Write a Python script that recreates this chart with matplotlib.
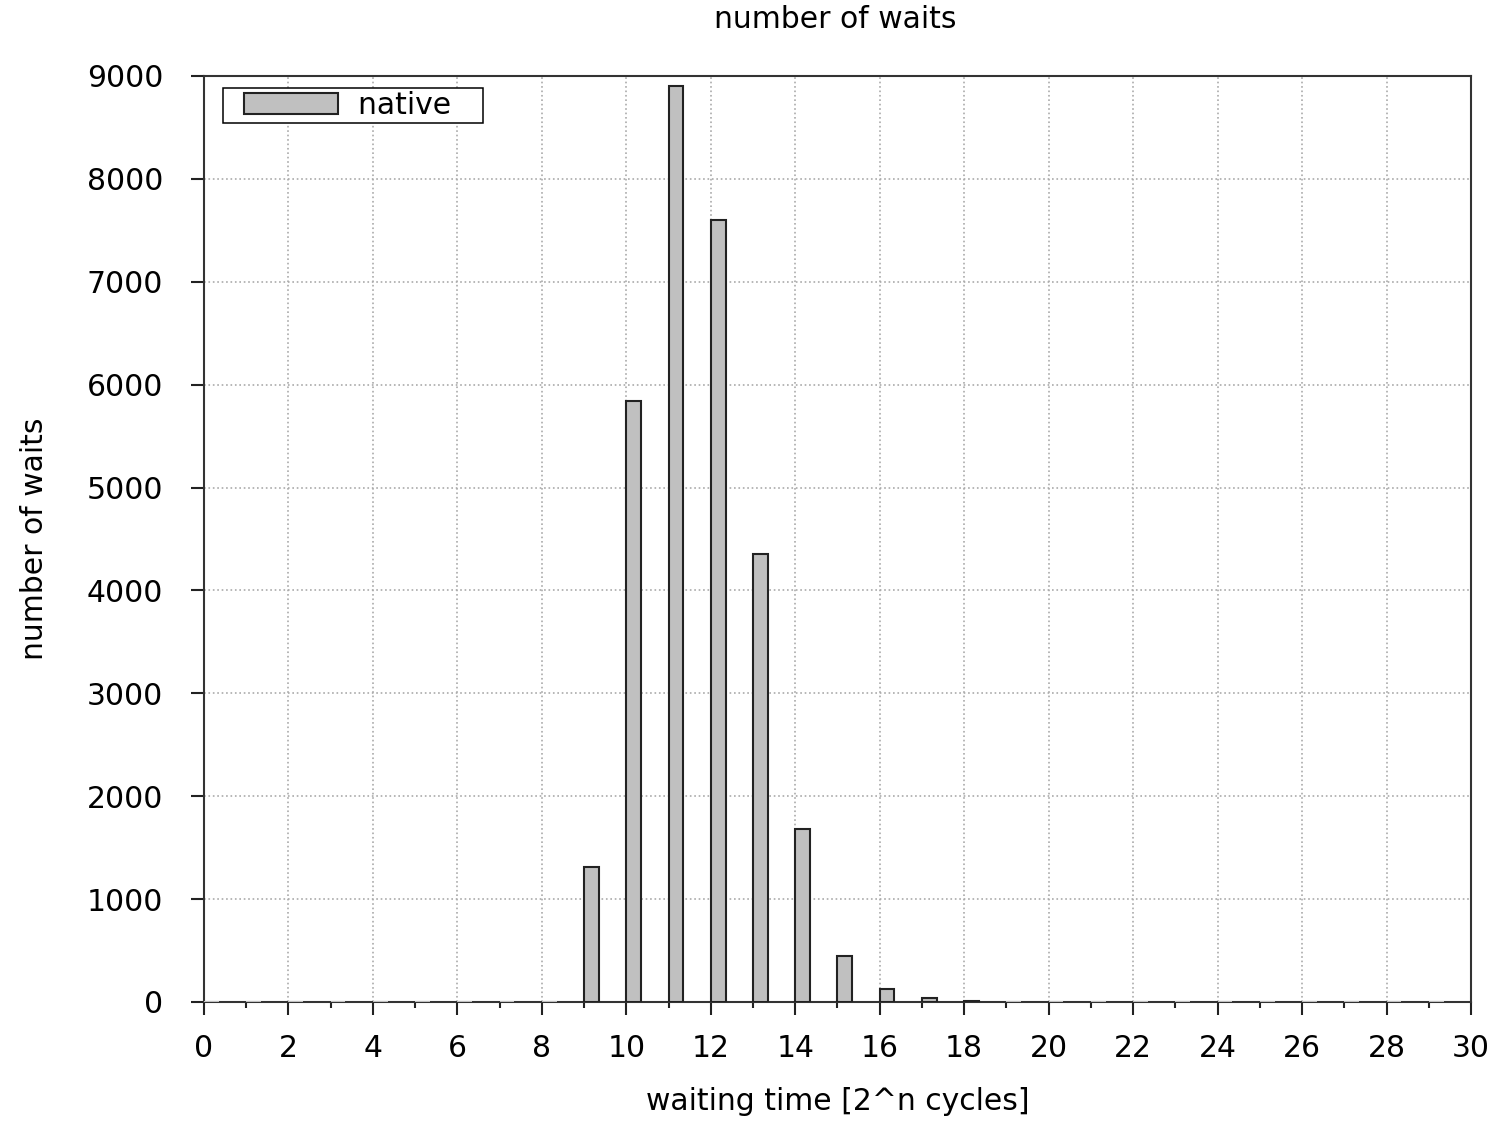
import numpy as np
import matplotlib.pyplot as plt
from matplotlib.container import BarContainer
from matplotlib.legend_handler import HandlerPatch, update_from_first_child

# waiting time bins 2^n cycles
n = list(range(30))
waits = [0, 0, 0, 0, 0, 0, 0, 0, 0, 1310, 5840, 8900, 7600, 4350, 1680,
         450, 125, 35, 10, 0, 0, 0, 0, 0, 0, 0, 0, 0, 0, 0]

plt.rcParams['font.family'] = ['DejaVu Sans']
fs = 21.5

fig = plt.figure(figsize=(15.01, 11.22), dpi=100)
ax = fig.add_axes([0.1359, 0.107, 0.8441, 0.8253])

edges = ['#222222' if v > 0 else '#c0c0c0' for v in waits]
ax.bar(n, waits, width=0.35, align='edge', color='#c0c0c0',
       edgecolor=edges, linewidth=1.5, label='native   ', zorder=3)

ax.set_xlim(0, 30)
ax.set_ylim(0, 9000)
ax.set_xticks(range(0, 31, 2))
ax.set_xticks(range(0, 31), minor=True)
ax.set_yticks(range(0, 9001, 1000))

ax.grid(True, which='major', linestyle=':', color='#aaaaaa', linewidth=1.2, zorder=0)
ax.tick_params(axis='both', which='major', direction='out', length=9.4, width=1.5,
               labelsize=fs, color='#222222')
ax.tick_params(axis='x', which='major', pad=14)
ax.tick_params(axis='y', which='major', pad=20)
ax.tick_params(axis='x', which='minor', direction='out', length=4.5, width=1.5, color='#222222')
for s in ax.spines.values():
    s.set_color('#333333')
    s.set_linewidth(1.5)

fig.text(0.5566, 1 - 20 / 1122, 'number of waits', fontsize=fs, ha='center', va='center')
ax.set_xlabel('waiting time [2^n cycles]', fontsize=fs)
ax.set_ylabel('number of waits', fontsize=fs)
ax.xaxis.set_label_coords(0.5, -0.0918)
ax.yaxis.set_label_coords(-0.1223, 0.5)

leg = ax.legend(loc='upper left', fontsize=fs, fancybox=False, framealpha=1,
                edgecolor='black', handlelength=3.75, handleheight=0.66,
                handletextpad=0.67, borderpad=0.1, borderaxespad=0,
                bbox_to_anchor=(0.015, 0.987),
                handler_map={BarContainer: HandlerPatch(xpad=0.6,
                                                        update_func=update_from_first_child)})
leg.get_frame().set_linewidth(1.1)
for h in leg.legend_handles:
    h.set_edgecolor('#222222')
    h.set_linewidth(1.5)

plt.savefig('out.png', dpi=100)
